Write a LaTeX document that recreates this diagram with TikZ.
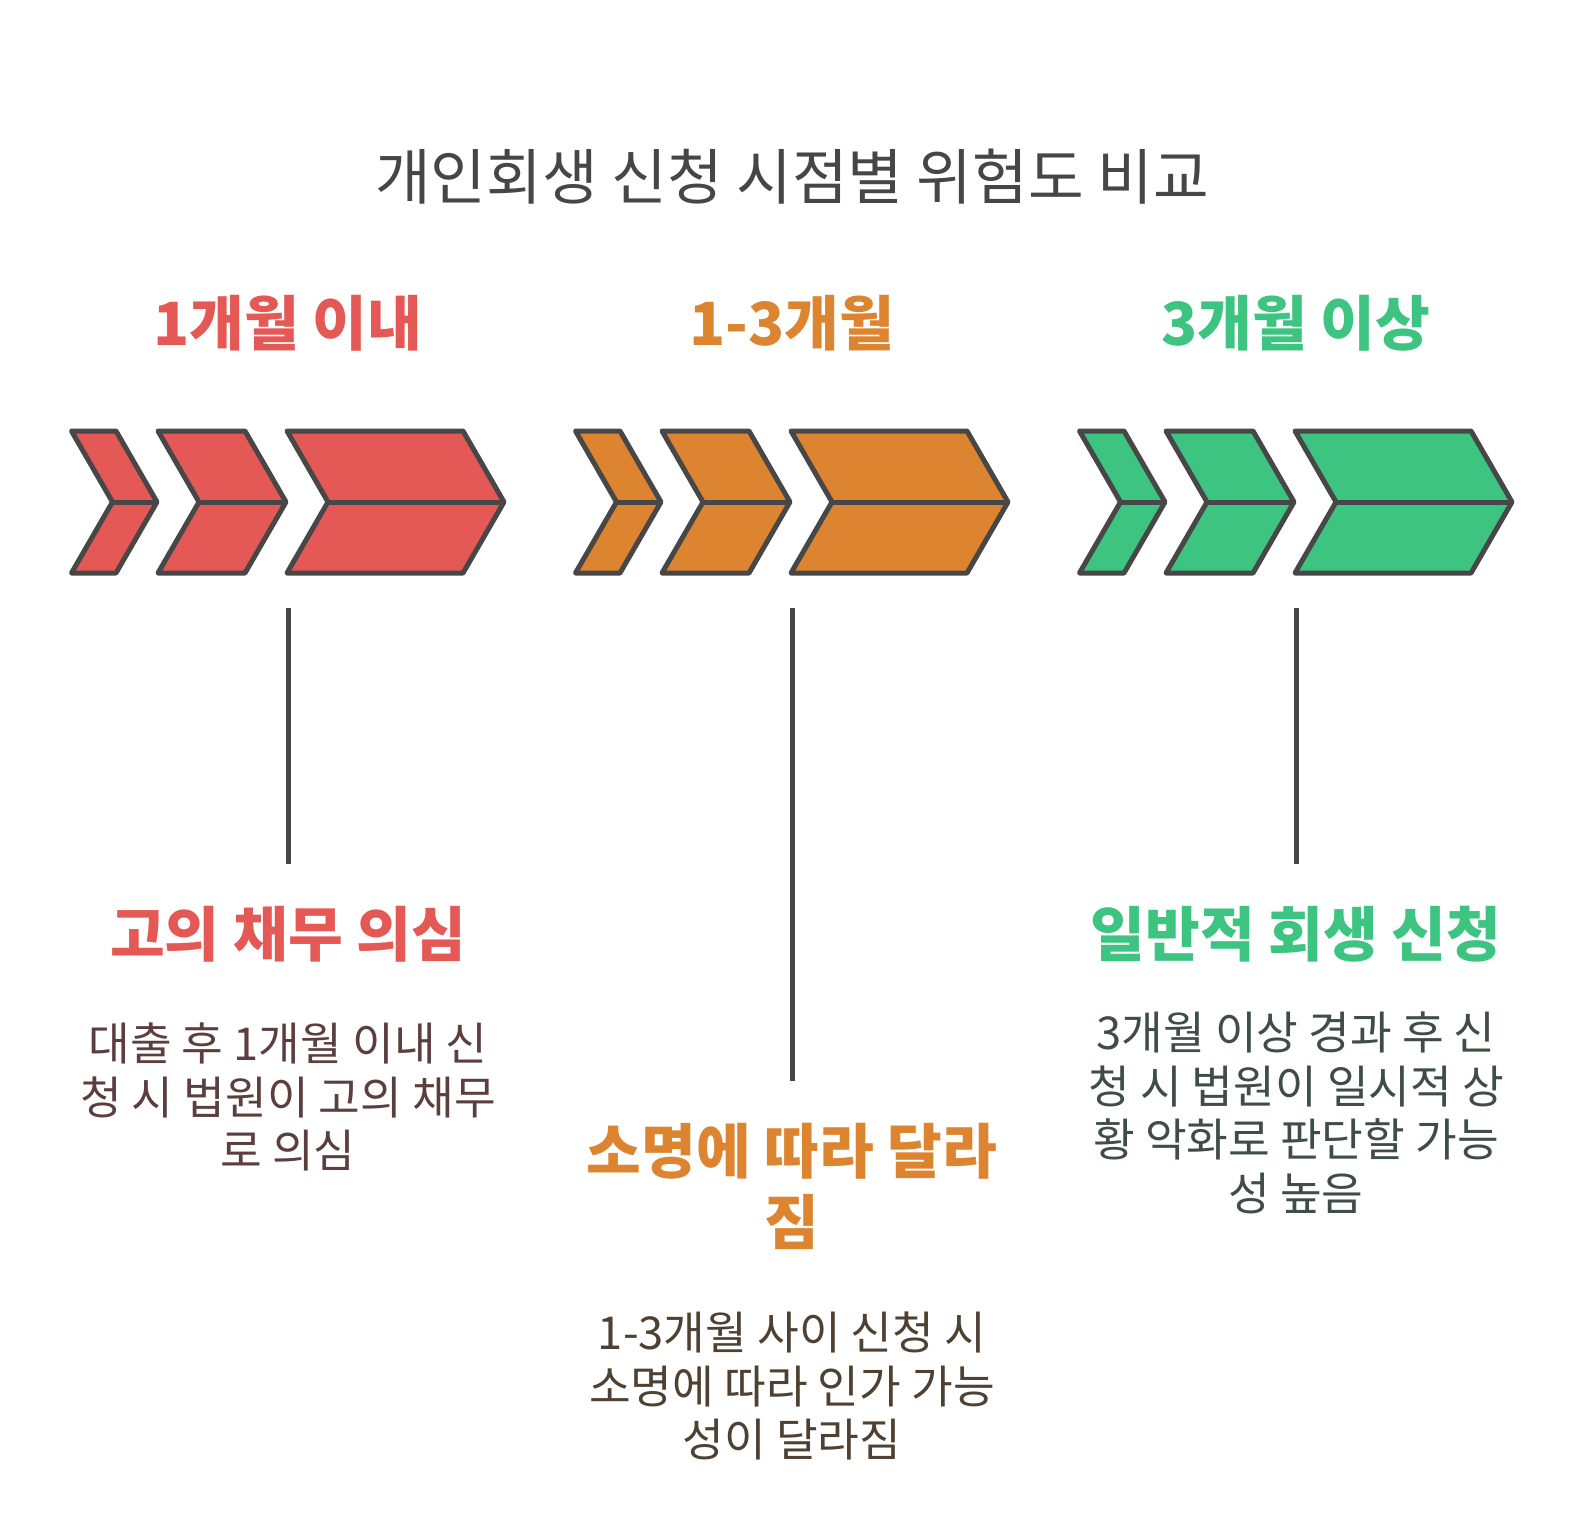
\documentclass[tikz,border=0pt]{standalone}
\usepackage{fontspec}
\setmainfont{Noto Sans CJK KR}
\definecolor{cred}{HTML}{E45855}
\definecolor{corange}{HTML}{DD8430}
\definecolor{cgreen}{HTML}{3CC480}
\definecolor{cline}{HTML}{474747}
\definecolor{ctitle}{HTML}{464646}
\definecolor{bred}{HTML}{5C3E3E}
\definecolor{borange}{HTML}{4F4132}
\definecolor{bgreen}{HTML}{3E4E44}
\tikzset{
  chev/.style={draw=cline, line width=5pt, line join=round},
  conn/.style={draw=cline, line width=5pt},
  titletext/.style={inner sep=0pt, text=ctitle, font=\fontsize{60.5}{70}\selectfont},
  headtext/.style={inner sep=0pt, align=center, font=\fontsize{59.5}{71}\selectfont\bfseries},
  bodytext/.style={inner sep=0pt, align=center, font=\fontsize{45.3}{53.5}\selectfont},
}
\newcommand{\chevshape}[3]{% left x, right x, colour
  \filldraw[chev, fill=#3] (#1,431) -- (#2,431) -- ({#2+41},502) -- (#2,573) -- (#1,573) -- ({#1+41},502) -- cycle;
  \draw[chev] ({#1+41},502) -- ({#2+41},502);
}
\newcommand{\chevgroup}[2]{% offset, colour
  \chevshape{71.5+#1}{116+#1}{#2}
  \chevshape{158+#1}{245+#1}{#2}
  \chevshape{287+#1}{463+#1}{#2}
}
\begin{document}
\begin{tikzpicture}[x=1pt, y=-1pt]
\useasboundingbox (0,0) rectangle (1584,1531);
\fill[white] (0,0) rectangle (1584,1531);

\node[titletext] (title) at (792,177) {개인회생 신청 시점별 위험도 비교};

\node[headtext, text=cred] (h1) at (288,323) {1개월 이내};
\node[headtext, text=corange] (h2) at (792,323) {1-3개월};
\node[headtext, text=cgreen] (h3) at (1296,323) {3개월 이상};

\chevgroup{0}{cred}
\chevgroup{504}{corange}
\chevgroup{1008}{cgreen}

\coordinate (t1) at (288,608);
\coordinate (e1) at (288,864);
\coordinate (t2) at (792,608);
\coordinate (e2) at (792,1081);
\coordinate (t3) at (1296,608);
\coordinate (e3) at (1296,864);
\draw[conn] (t1) -- (e1);
\draw[conn] (t2) -- (e2);
\draw[conn] (t3) -- (e3);

\node[headtext, text=cred] (s1) at (288,934) {고의 채무 의심};
\node[headtext, text=corange] (s2) at (792,1186) {소명에 따라 달라\\짐};
\node[headtext, text=cgreen] (s3) at (1296,934) {일반적 회생 신청};

\node[bodytext, text=bred] (b1) at (288,1097) {대출 후 1개월 이내 신\\청 시 법원이 고의 채무\\로 의심};
\node[bodytext, text=borange] (b2) at (792,1386) {1-3개월 사이 신청 시\\소명에 따라 인가 가능\\성이 달라짐};
\node[bodytext, text=bgreen] (b3) at (1296,1113) {3개월 이상 경과 후 신\\청 시 법원이 일시적 상\\황 악화로 판단할 가능\\성 높음};
\end{tikzpicture}
\end{document}
